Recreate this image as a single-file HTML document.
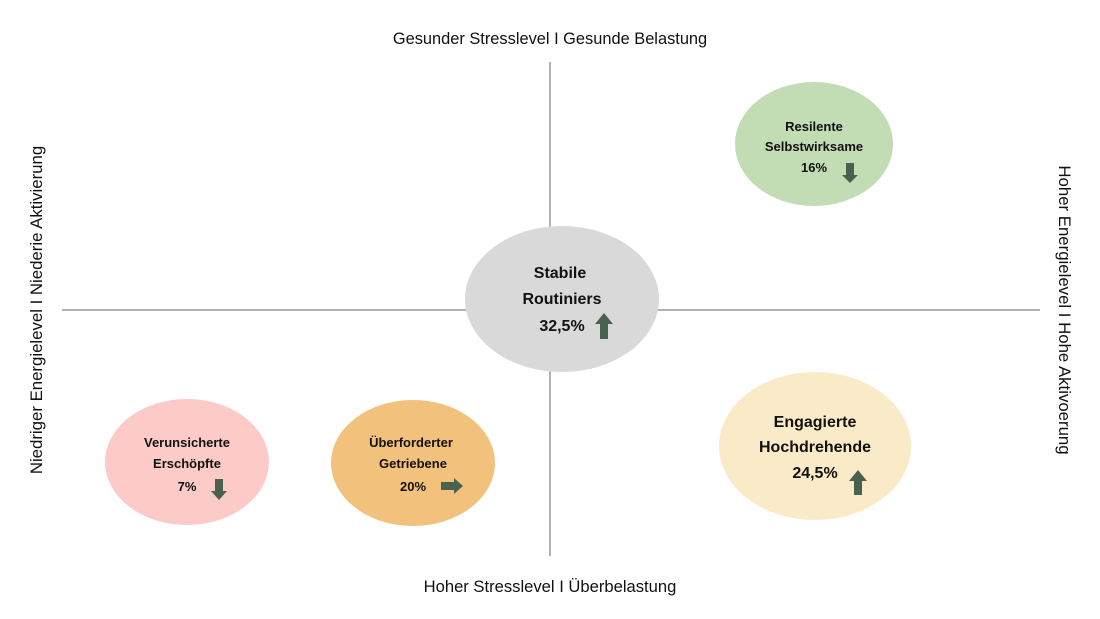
<!DOCTYPE html>
<html><head><style>body{margin:0;background:#fff}svg{display:block}text{font-family:"Liberation Sans",sans-serif;fill:#111}</style></head><body>
<svg width="1100" height="619" viewBox="0 0 1100 619" xmlns="http://www.w3.org/2000/svg">
<line x1="550" y1="62" x2="550" y2="556" stroke="#808080" stroke-width="1.2"/>
<line x1="62" y1="310" x2="1040" y2="310" stroke="#808080" stroke-width="1.2"/>
<text x="550" y="44" font-size="16.4" text-anchor="middle">Gesunder Stresslevel I Gesunde Belastung</text>
<text x="550" y="592" font-size="16.6" text-anchor="middle">Hoher Stresslevel I Überbelastung</text>
<text transform="translate(42,310) rotate(-90)" font-size="16.8" text-anchor="middle">Niedriger Energielevel I Niederie Aktivierung</text>
<text transform="translate(1059,310) rotate(90)" font-size="16.8" text-anchor="middle">Hoher Energielevel I Hohe Aktivoerung</text>
<g font-weight="bold">
<ellipse cx="562" cy="299" rx="97" ry="73" fill="#d9d9d9"/>
<text x="560" y="278" font-size="16" text-anchor="middle">Stabile</text>
<text x="562" y="304" font-size="16" text-anchor="middle">Routiniers</text>
<text x="562" y="331" font-size="16" text-anchor="middle">32,5%</text>
<path d="M604 313 L613 324 L608 324 L608 339 L600 339 L600 324 L595 324Z" fill="#4a6150"/>

<ellipse cx="814" cy="144" rx="79" ry="62" fill="#c2dcb4"/>
<text x="814" y="131" font-size="13" text-anchor="middle">Resilente</text>
<text x="814" y="151" font-size="13" text-anchor="middle">Selbstwirksame</text>
<text x="814" y="172" font-size="13" text-anchor="middle">16%</text>
<path d="M850 183 L858 175 L854 175 L854 163 L846 163 L846 175 L842 175Z" fill="#4a6150"/>

<ellipse cx="815" cy="446" rx="96" ry="74" fill="#faebc8"/>
<text x="815" y="427" font-size="16" text-anchor="middle">Engagierte</text>
<text x="815" y="452" font-size="16" text-anchor="middle">Hochdrehende</text>
<text x="815" y="478" font-size="16" text-anchor="middle">24,5%</text>
<path d="M858 470 L867 481 L862 481 L862 495 L854 495 L854 481 L849 481Z" fill="#4a6150"/>

<ellipse cx="187" cy="462" rx="82" ry="63" fill="#fccbc7"/>
<text x="187" y="447" font-size="13" text-anchor="middle">Verunsicherte</text>
<text x="187" y="468" font-size="13" text-anchor="middle">Erschöpfte</text>
<text x="187" y="491" font-size="13" text-anchor="middle">7%</text>
<path d="M219 500 L227 491 L223 491 L223 479 L215 479 L215 491 L211 491Z" fill="#4a6150"/>

<ellipse cx="413" cy="463" rx="82" ry="63" fill="#f2c17b"/>
<text x="411" y="447" font-size="13" text-anchor="middle">Überforderter</text>
<text x="413" y="468" font-size="13" text-anchor="middle">Getriebene</text>
<text x="413" y="491" font-size="13" text-anchor="middle">20%</text>
<path d="M463 486 L454 478 L454 482 L441 482 L441 490 L454 490 L454 494Z" fill="#4a6150"/>
</g>
</svg>
</body></html>
